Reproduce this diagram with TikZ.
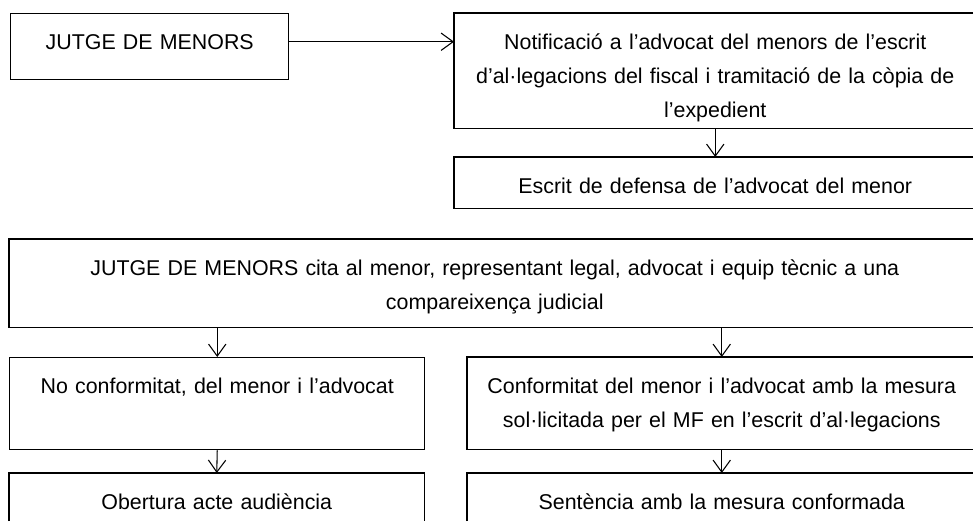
\documentclass[tikz,border=0pt]{standalone}
\usepackage{fontspec}
\setmainfont{Liberation Sans}
\usetikzlibrary{arrows.meta}

\begin{document}
\begin{tikzpicture}[x=0.75pt,y=-0.75pt,
  % every box is hung from its top left corner; the text sits at the top
  caixa/.style={anchor=north west, align=center,
    inner xsep=0pt, inner ysep=0pt, text height=27pt,
    font=\fontsize{16.05}{25.5}\selectfont},
  vora/.style={line width=1.1pt},
  fletxa/.style={line width=0.8pt, -{Straight Barb[length=9pt,width=13pt,line width=0.8pt]}}]
% The page is cut off on the right and at the bottom, as in the original,
% so the boxes that run off the page only get the sides that can be seen
\useasboundingbox (0,0) rectangle (974,522);
\fill[white] (0,0) rectangle (974,522);
\coordinate (marge) at (973,521);
% First row: the judge and the notification
\node[caixa, draw, vora, minimum width=208.5pt, text width=200pt, text depth=22.5pt] (jutge) at (10,13) {JUTGE DE MENORS};
\node[caixa, minimum width=391.5pt, text width=385pt, text depth=59.25pt] (notif) at (454,13)
  {Notificació a l’advocat del menors de l’escrit\\d’al·legacions del fiscal i tramitació de la còpia de\\l’expedient};
\node[caixa, minimum width=391.5pt, text width=385pt, text depth=11.25pt] (defensa) at (454,157)
  {Escrit de defensa de l’advocat del menor};
% The hearing, across the whole width
\node[caixa, minimum width=728.25pt, text width=720pt, text depth=39pt] (cita) at (9,239)
  {JUTGE DE MENORS cita al menor, representant legal, advocat i equip tècnic a una\\compareixença judicial};
% Two branches: no agreement on the left, agreement on the right
\node[caixa, draw, vora, minimum width=311.25pt, text width=300pt, text depth=42pt] (noconf) at (9,357)
  {No conformitat, del menor i l’advocat};
\node[caixa, minimum width=381.75pt, text width=375pt, text depth=42pt] (conf) at (467,357)
  {Conformitat del menor i l’advocat amb la mesura\\sol·licitada per el MF en l’escrit d’al·legacions};
\node[caixa, minimum width=311.25pt, text width=300pt, text depth=23.25pt] (obertura) at (9,473)
  {Obertura acte audiència};
\node[caixa, minimum width=381.75pt, text width=375pt, text depth=23.25pt] (sentencia) at (467,473)
  {Sentència amb la mesura conformada};
% Open sides of the boxes cut by the page
\foreach \caixa in {notif,defensa,cita,conf}
  \draw[vora] (\caixa.north west -| marge) -- (\caixa.north west) -- (\caixa.south west) -- (\caixa.south west -| marge);
\draw[vora] (obertura.west |- marge) -- (obertura.north west) -- (obertura.north east) -- (obertura.east |- marge);
\draw[vora] (sentencia.west |- marge) -- (sentencia.north west) -- (sentencia.north west -| marge);
% The arrows
\draw[fletxa] ([yshift=3.75pt]jutge.east) -- ([yshift=3.75pt]jutge.east -| notif.west);
\draw[fletxa] (notif.south) -- (defensa.north);
\draw[fletxa] (cita.south -| noconf.north) -- (noconf.north);
\draw[fletxa] (cita.south -| conf.north) -- (conf.north);
\draw[fletxa] (noconf.south) -- (obertura.north);
\draw[fletxa] (conf.south) -- (sentencia.north);
\end{tikzpicture}
\end{document}
